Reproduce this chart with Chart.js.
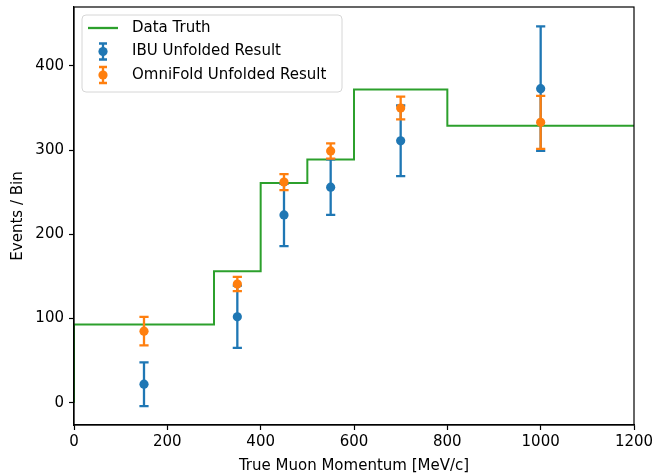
<!DOCTYPE html>
<html>
<head>
<meta charset="utf-8">
<script src="https://cdn.jsdelivr.net/npm/chart.js@4.4.0/dist/chart.umd.min.js"></script>
<style>
  html, body { margin: 0; padding: 0; background: #fff; }
  #wrap { width: 654px; height: 475px; position: relative; }
</style>
</head>
<body>
<div id="wrap"><canvas id="c" width="654" height="475"></canvas></div>
<script>
// ---- data ----
const binEdges    = [0, 300, 400, 500, 600, 800, 1200];
const truthValues = [93, 156, 261, 289, 372, 329];
const binCenters  = [150, 350, 450, 550, 700, 1000];
const ibuValues   = [22, 102, 223, 256, 311, 373];
const ibuErrors   = [26, 37, 37, 33, 42, 74];
const omniValues  = [85, 141, 262, 299, 350, 333];
const omniErrors  = [17, 8.5, 9.5, 9, 13.5, 31.5];
const xTicks = [0, 200, 400, 600, 800, 1000, 1200];
const yTicks = [0, 100, 200, 300, 400];
const legendLabels = ['Data Truth', 'IBU Unfolded Result', 'OmniFold Unfolded Result'];

const GREEN = '#2ca02c', BLUE = '#1f77b4', ORANGE = '#ff7f0e';
const FONT = '"DejaVu Sans", sans-serif';
const FS = 15;

// step outline built from edges and values
const truthPts = [{x: binEdges[0], y: 0}];
truthValues.forEach((v, i) => {
  truthPts.push({x: binEdges[i], y: v});
  truthPts.push({x: binEdges[i + 1], y: v});
});

const ibuPts = binCenters.map((x, i) => ({x, y: ibuValues[i]}));
const omniPts = binCenters.map((x, i) => ({x, y: omniValues[i]}));

const errorBarPlugin = {
  id: 'errbars',
  beforeDatasetDraw(chart, args) {
    const ds = chart.data.datasets[args.index];
    if (!ds.errors) return;
    const ctx = chart.ctx, xs = chart.scales.x, ys = chart.scales.y;
    ctx.save();
    ctx.strokeStyle = ds.backgroundColor;
    ctx.lineWidth = 2.3;
    ds.data.forEach((p, i) => {
      const e = ds.errors[i];
      const px = xs.getPixelForValue(p.x);
      const yTop = ys.getPixelForValue(p.y + e);
      const yBot = ys.getPixelForValue(p.y - e);
      ctx.beginPath();
      ctx.moveTo(px, yTop); ctx.lineTo(px, yBot);
      ctx.moveTo(px - 4.6, yTop); ctx.lineTo(px + 4.6, yTop);
      ctx.moveTo(px - 4.6, yBot); ctx.lineTo(px + 4.6, yBot);
      ctx.stroke();
    });
    ctx.restore();
  }
};

const framePlugin = {
  id: 'frame',
  afterDatasetsDraw(chart) {
    const {ctx, chartArea: a} = chart;
    ctx.save();
    ctx.strokeStyle = '#000';
    ctx.lineWidth = 1.2;
    ctx.strokeRect(a.left, a.top, a.right - a.left, a.bottom - a.top);
    ctx.restore();
  },
  afterDraw(chart) {
    const ctx = chart.ctx;
    ctx.save();
    // legend box
    const bx = 82, by = 15, bw = 260, bh = 77, r = 4;
    ctx.beginPath();
    ctx.moveTo(bx + r, by);
    ctx.arcTo(bx + bw, by, bx + bw, by + bh, r);
    ctx.arcTo(bx + bw, by + bh, bx, by + bh, r);
    ctx.arcTo(bx, by + bh, bx, by, r);
    ctx.arcTo(bx, by, bx + bw, by, r);
    ctx.closePath();
    ctx.fillStyle = 'rgba(255,255,255,0.8)';
    ctx.fill();
    ctx.strokeStyle = '#d6d6d6';
    ctx.lineWidth = 1;
    ctx.stroke();

    const rows = [28, 51.5, 75];
    // Data Truth line
    ctx.strokeStyle = GREEN; ctx.lineWidth = 2.3;
    ctx.beginPath(); ctx.moveTo(88, rows[0]); ctx.lineTo(118, rows[0]); ctx.stroke();
    // errorbar handles
    [[BLUE, rows[1]], [ORANGE, rows[2]]].forEach(([c, y]) => {
      ctx.strokeStyle = c; ctx.fillStyle = c; ctx.lineWidth = 2.3;
      ctx.beginPath();
      ctx.moveTo(103, y - 8); ctx.lineTo(103, y + 8);
      ctx.moveTo(99, y - 8); ctx.lineTo(107, y - 8);
      ctx.moveTo(99, y + 8); ctx.lineTo(107, y + 8);
      ctx.stroke();
      ctx.beginPath(); ctx.arc(103, y, 4.6, 0, Math.PI * 2); ctx.fill();
    });
    ctx.fillStyle = '#000';
    ctx.font = FS + 'px ' + FONT;
    ctx.textBaseline = 'middle';
    ctx.textAlign = 'left';
    legendLabels.forEach((t, i) => ctx.fillText(t, 132, rows[i]));
    ctx.restore();
  }
};

new Chart(document.getElementById('c'), {
  type: 'scatter',
  data: {
    datasets: [
      {
        type: 'line', label: legendLabels[0], data: truthPts,
        borderColor: GREEN, borderWidth: 2, pointRadius: 0, fill: false,
        tension: 0, order: 3
      },
      {
        label: legendLabels[1], data: ibuPts, errors: ibuErrors,
        backgroundColor: BLUE, borderColor: BLUE, borderWidth: 0,
        pointRadius: 4.6, pointHoverRadius: 4.6, order: 2
      },
      {
        label: legendLabels[2], data: omniPts, errors: omniErrors,
        backgroundColor: ORANGE, borderColor: ORANGE, borderWidth: 0,
        pointRadius: 4.6, pointHoverRadius: 4.6, order: 1
      }
    ]
  },
  options: {
    responsive: false,
    animation: false,
    devicePixelRatio: 1,
    layout: { padding: { left: 0, right: 20, top: 7, bottom: 0 } },
    plugins: { legend: { display: false }, tooltip: { enabled: false } },
    scales: {
      x: {
        type: 'linear', min: 0, max: 1200,
        afterBuildTicks: s => { s.ticks = xTicks.map(v => ({value: v})); },
        afterFit: s => { s.height = 50; s.paddingLeft = 0; s.paddingRight = 0; },
        ticks: { color: '#000', font: { family: FONT, size: FS }, padding: 3, maxRotation: 0, autoSkip: false,
                 callback: v => String(v) },
        grid: { drawOnChartArea: false, drawTicks: true, tickLength: 5, tickWidth: 1.2, tickColor: '#000' },
        border: { display: true, color: '#000', width: 1.2 },
        title: { display: true, text: 'True Muon Momentum [MeV/c]', color: '#000',
                 font: { family: FONT, size: FS }, padding: { top: 0, bottom: 0 } }
      },
      y: {
        type: 'linear', min: -26.5, max: 470,
        afterBuildTicks: s => { s.ticks = yTicks.map(v => ({value: v})); },
        afterFit: s => { s.width = 74; s.paddingTop = 0; s.paddingBottom = 0; },
        ticks: { color: '#000', font: { family: FONT, size: FS }, padding: 5, autoSkip: false,
                 callback: v => String(v) },
        grid: { drawOnChartArea: false, drawTicks: true, tickLength: 5, tickWidth: 1.2, tickColor: '#000' },
        border: { display: true, color: '#000', width: 1.2 },
        title: { display: true, text: 'Events / Bin', color: '#000',
                 font: { family: FONT, size: FS }, padding: { top: 9, bottom: 0 } }
      }
    }
  },
  plugins: [errorBarPlugin, framePlugin]
});
</script>
</body>
</html>
